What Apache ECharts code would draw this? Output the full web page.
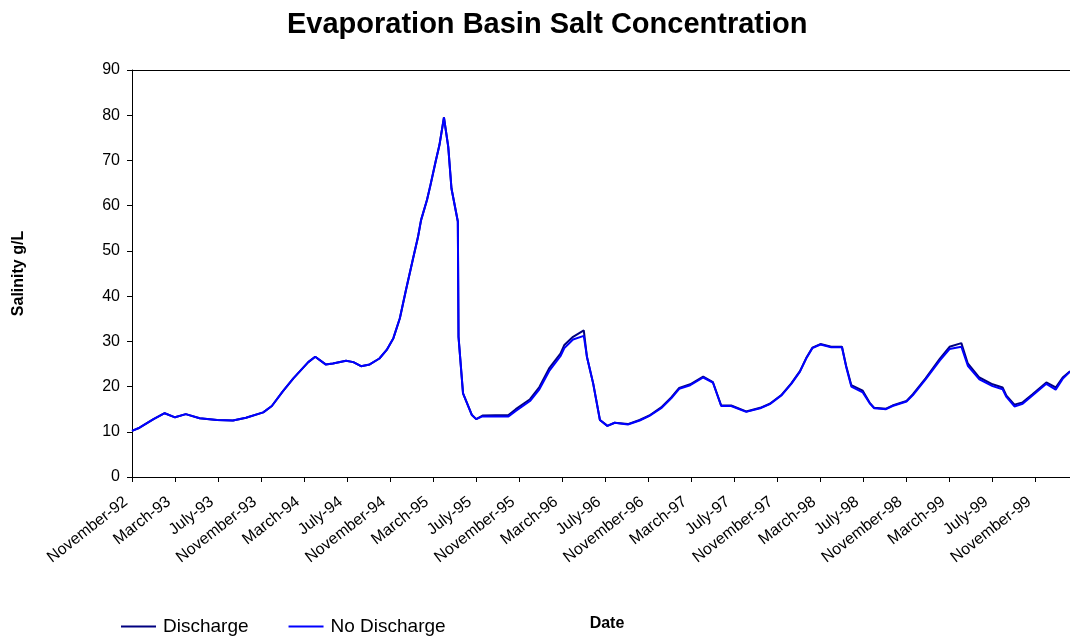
<!DOCTYPE html>
<html>
<head>
<meta charset="utf-8">
<title>Evaporation Basin Salt Concentration</title>
<script src="https://cdn.jsdelivr.net/npm/echarts@6/dist/echarts.min.js"></script>
<style>
  html, body { margin: 0; padding: 0; background: #fff; }
  #chart { width: 1070px; height: 639px; }
</style>
</head>
<body>
<div id="chart"></div>
<script>
// Sampling dates of the basin salinity record
const sampleDates = [
  '1992-11-01','1992-11-22','1993-01-01','1993-02-02','1993-03-01','1993-04-01','1993-05-10','1993-06-28',
  '1993-08-13','1993-09-19','1993-11-07','1993-12-01','1994-01-01','1994-02-01','1994-03-13','1994-04-02',
  '1994-05-01','1994-05-22','1994-06-28','1994-07-19','1994-08-10','1994-09-04','1994-10-01','1994-10-22',
  '1994-11-10','1994-11-28','1994-12-16','1995-01-04','1995-01-19','1995-01-28','1995-02-13','1995-02-22',
  '1995-03-09','1995-03-19','1995-04-01','1995-04-13','1995-04-22','1995-05-10','1995-05-12','1995-05-25',
  '1995-06-19','1995-07-01','1995-07-19','1995-10-01','1995-10-22','1995-12-01','1995-12-28','1996-01-25',
  '1996-02-25','1996-03-07','1996-04-01','1996-05-01','1996-05-10','1996-05-28','1996-06-16','1996-07-07',
  '1996-07-28','1996-09-04','1996-10-07','1996-11-04','1996-12-07','1997-01-05','1997-01-28','1997-02-26',
  '1997-04-04','1997-05-01','1997-05-25','1997-06-22','1997-08-04','1997-09-13','1997-10-10','1997-11-13',
  '1997-12-10','1998-01-04','1998-01-22','1998-02-08','1998-03-01','1998-04-01','1998-05-01','1998-05-13',
  '1998-05-28','1998-06-29','1998-07-19','1998-08-01','1998-09-04','1998-09-22','1998-11-01','1998-11-19',
  '1998-12-25','1999-02-04','1999-03-01','1999-04-04','1999-04-22','1999-05-25','1999-07-01','1999-07-30',
  '1999-08-10','1999-09-02','1999-09-25','1999-10-23','1999-12-01','1999-12-28','2000-01-17','2000-02-07'
];

// Salinity (g/L) with discharge
const discharge = [
  10.2, 10.9, 12.8, 14.1, 13.2, 13.9, 13.0, 12.6,
  12.5, 13.1, 14.3, 15.7, 18.9, 21.8, 25.4, 26.6,
  24.9, 25.1, 25.7, 25.4, 24.5, 24.9, 26.2, 28.1,
  30.7, 35.1, 41.5, 48.0, 53.0, 56.8, 61.3, 64.6,
  70.1, 73.4, 79.5, 73.0, 63.8, 56.5, 31.0, 18.5,
  13.7, 12.8, 13.6, 13.7, 15.0, 17.2, 19.9, 24.0,
  27.3, 29.2, 31.0, 32.4, 26.6, 20.7, 12.6, 11.3,
  12.0, 11.7, 12.6, 13.6, 15.4, 17.6, 19.7, 20.5,
  22.2, 21.0, 15.8, 15.8, 14.5, 15.3, 16.2, 18.2,
  20.7, 23.4, 26.3, 28.6, 29.4, 28.8, 28.8, 24.6,
  20.3, 19.1, 16.4, 15.3, 15.1, 15.8, 16.8, 18.3,
  21.8, 26.2, 28.8, 29.6, 25.1, 22.0, 20.5, 19.8,
  18.0, 16.0, 16.5, 18.3, 20.9, 19.8, 22.0, 23.4
];

// Salinity (g/L) without discharge
const noDischarge = [
  10.2, 10.9, 12.8, 14.1, 13.2, 13.9, 13.0, 12.6,
  12.5, 13.1, 14.3, 15.7, 18.9, 21.8, 25.4, 26.6,
  24.9, 25.1, 25.7, 25.4, 24.5, 24.9, 26.2, 28.1,
  30.7, 35.1, 41.5, 48.0, 53.0, 56.8, 61.3, 64.6,
  70.1, 73.4, 79.5, 73.0, 63.8, 56.5, 31.0, 18.5,
  13.7, 12.8, 13.4, 13.4, 14.6, 16.8, 19.4, 23.4,
  26.7, 28.5, 30.4, 31.2, 26.6, 20.7, 12.6, 11.3,
  12.0, 11.6, 12.5, 13.5, 15.2, 17.4, 19.5, 20.3,
  22.0, 20.9, 15.7, 15.7, 14.4, 15.2, 16.1, 18.1,
  20.6, 23.3, 26.2, 28.5, 29.3, 28.7, 28.7, 24.4,
  20.0, 18.7, 16.3, 15.2, 15.0, 15.7, 16.7, 18.1,
  21.6, 25.8, 28.3, 28.8, 24.6, 21.6, 20.1, 19.4,
  17.7, 15.6, 16.2, 18.0, 20.6, 19.3, 21.7, 23.3
];

// Date axis labels, one every four months from November 1992
const tickLabels = [
  'November-92','March-93','July-93','November-93','March-94','July-94',
  'November-94','March-95','July-95','November-95','March-96','July-96',
  'November-96','March-97','July-97','November-97','March-98','July-98',
  'November-98','March-99','July-99','November-99'
];

// Months elapsed since 1 November 1992 (fractional)
function monthsSinceStart(s) {
  const [y, m, d] = s.split('-').map(Number);
  const daysInMonth = new Date(y, m, 0).getDate();
  return (y - 1992) * 12 + (m - 11) + (d - 1) / daysInMonth;
}

const xs = sampleDates.map(monthsSinceStart);
const toPairs = vals => vals.map((v, i) => [xs[i], v]);
const tickPositions = tickLabels.map((_, i) => i * 4);

const FONT = '"Liberation Sans", Arial, sans-serif';

const chart = echarts.init(document.getElementById('chart'), null, { renderer: 'canvas' });

chart.setOption({
  backgroundColor: '#ffffff',
  animation: false,
  title: {
    text: 'Evaporation Basin Salt Concentration',
    left: 282,
    top: 5,
    textStyle: { fontFamily: FONT, fontSize: 29, fontWeight: 'bold', color: '#000' }
  },
  legend: {
    left: 121,
    top: 617,
    padding: 0,
    icon: 'rect',
    itemWidth: 35,
    itemHeight: 2,
    itemGap: 40,
    textStyle: { fontFamily: FONT, fontSize: 19, color: '#000', padding: [0, 0, 0, 2] },
    data: ['Discharge', 'No Discharge']
  },
  grid: { left: 132, right: 0, top: 70, bottom: 162, containLabel: false },
  xAxis: [{
    type: 'value',
    min: 0,
    max: 87.2,
    interval: 4,
    name: 'Date',
    nameLocation: 'middle',
    nameGap: 139,
    nameTextStyle: { fontFamily: FONT, fontSize: 16, fontWeight: 'bold', color: '#000', padding: [0, 0, 0, 12] },
    axisLine: { show: true, onZero: false, lineStyle: { color: '#000', width: 1 } },
    axisTick: { show: true, inside: false, length: 5, customValues: tickPositions, lineStyle: { color: '#000' } },
    axisLabel: {
      show: true,
      customValues: tickPositions,
      rotate: 38,
      margin: 18,
      padding: [0, 8, 0, 0],
      fontFamily: FONT,
      fontSize: 16,
      color: '#000',
      formatter: v => tickLabels[Math.round(v / 4)] || ''
    },
    splitLine: { show: false }
  }, {
    // plot-area top border
    type: 'value',
    position: 'top',
    min: 0,
    max: 87.2,
    axisLine: { show: true, onZero: false, lineStyle: { color: '#000', width: 1 } },
    axisTick: { show: false },
    axisLabel: { show: false },
    splitLine: { show: false }
  }],
  yAxis: {
    type: 'value',
    min: 0,
    max: 90,
    interval: 10,
    name: 'Salinity g/L',
    nameLocation: 'middle',
    nameGap: 105,
    nameTextStyle: { fontFamily: FONT, fontSize: 16, fontWeight: 'bold', color: '#000' },
    axisLine: { show: true, lineStyle: { color: '#000', width: 1 } },
    axisTick: { show: true, inside: false, length: 5, lineStyle: { color: '#000' } },
    axisLabel: { margin: 12, fontFamily: FONT, fontSize: 16, color: '#000' },
    splitLine: { show: false }
  },
  series: [
    {
      name: 'Discharge',
      type: 'line',
      xAxisIndex: 0,
      data: toPairs(discharge),
      showSymbol: false,
      symbol: 'none',
      lineStyle: { color: '#000080', width: 2 },
      itemStyle: { color: '#000080' },
      z: 2
    },
    {
      name: 'No Discharge',
      type: 'line',
      xAxisIndex: 0,
      data: toPairs(noDischarge),
      showSymbol: false,
      symbol: 'none',
      lineStyle: { color: '#0000ff', width: 2 },
      itemStyle: { color: '#0000ff' },
      z: 3
    }
  ]
});
</script>
</body>
</html>
